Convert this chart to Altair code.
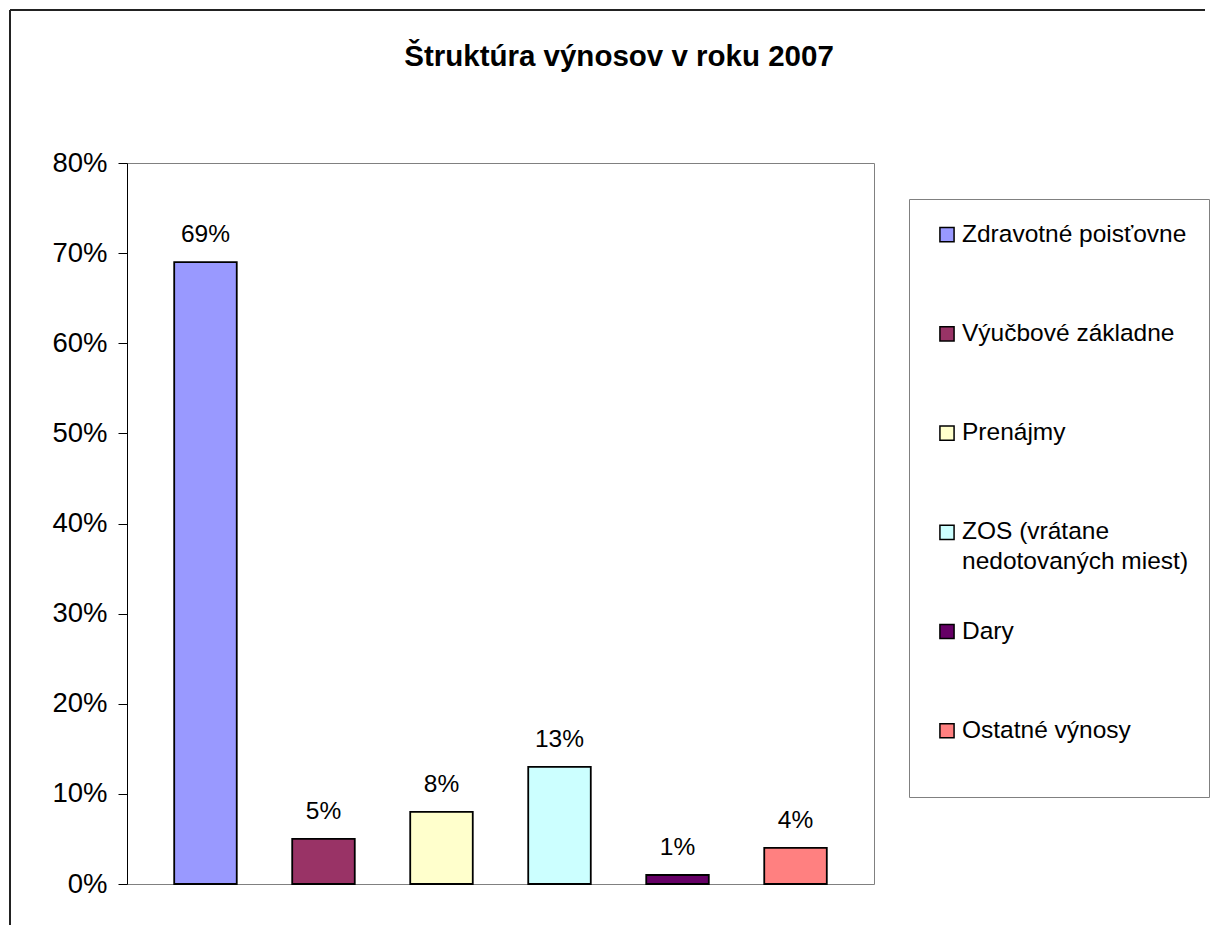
import altair as alt
import pandas as pd

# ---- data ----
categories = [
    "Zdravotné poisťovne",
    "Výučbové základne",
    "Prenájmy",
    "ZOS (vrátane nedotovaných miest)",
    "Dary",
    "Ostatné výnosy",
]
legend_labels = [
    "Zdravotné poisťovne",
    "Výučbové základne",
    "Prenájmy",
    "ZOS (vrátane\nnedotovaných miest)",
    "Dary",
    "Ostatné výnosy",
]
values = [0.69, 0.05, 0.08, 0.13, 0.01, 0.04]
colors = ["#9999FF", "#993366", "#FFFFCC", "#CCFFFF", "#660066", "#FF8080"]
y_ticks = [0.0, 0.1, 0.2, 0.3, 0.4, 0.5, 0.6, 0.7, 0.8]
title_text = "Štruktúra výnosov v roku 2007"

FONT = "Liberation Sans"

df = pd.DataFrame({"kategoria": categories, "popis": legend_labels, "podiel": values})
one = pd.DataFrame({"k": [0]})

color_scale = alt.Scale(domain=categories, range=colors)

x_enc = alt.X(
    "kategoria:N",
    sort=categories,
    axis=None,
    scale=alt.Scale(paddingInner=0.47, paddingOuter=0.4),
)
y_enc = alt.Y(
    "podiel:Q",
    scale=alt.Scale(domain=[0, 0.8], nice=False),
    axis=alt.Axis(
        values=y_ticks,
        format=".0%",
        grid=False,
        title=None,
        labelFont=FONT,
        labelFontSize=27.5,
        labelColor="black",
        domainColor="black",
        domainWidth=1,
        tickColor="black",
        tickSize=9,
        labelPadding=11,
    ),
)

bars = alt.Chart(df).mark_bar(stroke="black", strokeWidth=1.8).encode(
    x=x_enc,
    y=y_enc,
    color=alt.Color("kategoria:N", scale=color_scale, legend=None),
)

bar_labels = alt.Chart(df).mark_text(
    baseline="middle", dy=-27, fontSize=24.5, font=FONT, color="black"
).encode(
    x=x_enc,
    y=y_enc,
    text=alt.Text("podiel:Q", format=".0%"),
)

# outer chart frame (decoration)
frame_v = alt.Chart(one).mark_rule(color="#222222", strokeWidth=2).encode(
    x=alt.value(-117), y=alt.value(-153), y2=alt.value(762)
)
frame_h = alt.Chart(one).mark_rule(color="#222222", strokeWidth=2).encode(
    x=alt.value(-117), x2=alt.value(1078), y=alt.value(-153)
)

main = alt.layer(bars, bar_labels, frame_v, frame_h).properties(width=747, height=721)

# ---- manual legend ----
leg_y = alt.Y(
    "kategoria:N",
    sort=categories,
    axis=None,
    scale=alt.Scale(type="point", padding=0.514, align=0.35),
)
swatches = alt.Chart(df).mark_square(
    size=200, stroke="black", strokeWidth=1.5, opacity=1
).encode(
    x=alt.value(38),
    y=leg_y,
    color=alt.Color("kategoria:N", scale=color_scale, legend=None),
)
leg_text = alt.Chart(df).mark_text(
    align="left",
    baseline="top",
    dy=-12,
    fontSize=24.5,
    font=FONT,
    lineBreak="\n",
    lineHeight=30,
    color="black",
).encode(
    x=alt.value(53),
    y=leg_y,
    text="popis:N",
)
legend = alt.layer(swatches, leg_text).properties(width=300, height=598)

spacer = alt.Chart(one).mark_point(opacity=0).properties(
    width=300, height=36, view=alt.ViewBackground(strokeOpacity=0)
)

right = alt.vconcat(spacer, legend, spacing=0, bounds="flush")

chart = (
    alt.hconcat(main, right, spacing=35, bounds="flush")
    .properties(
        title=alt.TitleParams(
            text=title_text,
            font=FONT,
            fontSize=29.5,
            fontWeight="bold",
            color="black",
            anchor="middle",
            offset=0,
            baseline="alphabetic",
            dy=87,
            dx=10,
        ),
        padding={"left": 0, "top": 0, "right": 0, "bottom": 0},
        background="white",
    )
    .configure_view(stroke="#808080", strokeWidth=1)
)

chart.save("out.html", embed_options={"renderer": "svg", "actions": False})
